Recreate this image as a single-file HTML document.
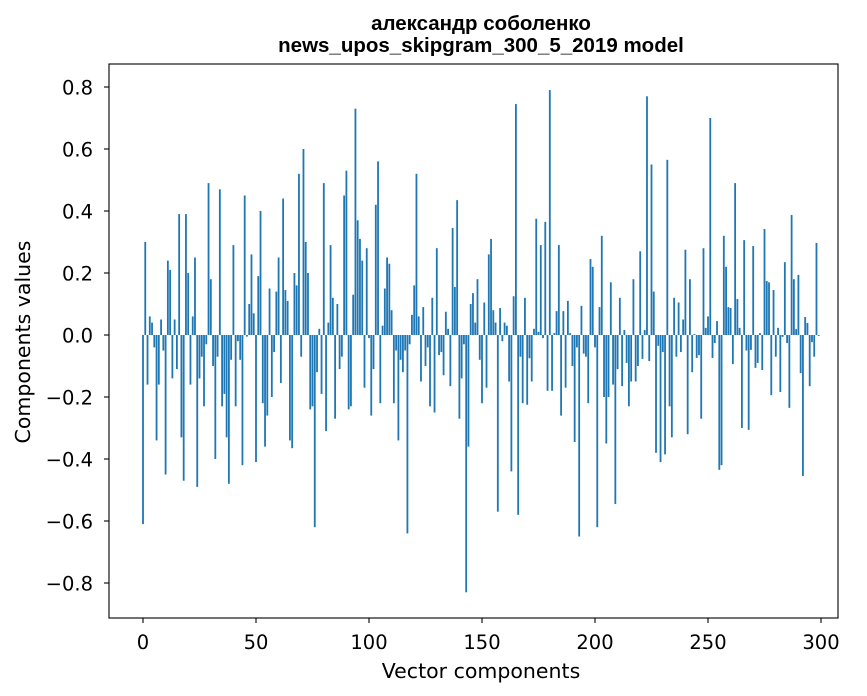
<!DOCTYPE html>
<html><head><meta charset="utf-8"><style>
html,body{margin:0;padding:0;background:#fff;}
svg{display:block;font-family:"DejaVu Sans","Liberation Sans",sans-serif;}
</style></head><body>
<svg id="chart" width="867" height="696" viewBox="0 0 867 696" xmlns="http://www.w3.org/2000/svg">
<rect width="867" height="696" fill="#fff"/>
<text x="481" y="30" text-anchor="middle" font-size="20.5" font-weight="bold" fill="#000" font-family="Liberation Sans, sans-serif">александр соболенко</text>
<text x="481" y="52" text-anchor="middle" font-size="20.5" font-weight="bold" fill="#000" font-family="Liberation Sans, sans-serif">news_upos_skipgram_300_5_2019 model</text>
<g id="bars"></g>
<g id="yticks"></g>
<g id="xticks"></g>
<rect x="109" y="64" width="729" height="554" fill="none" stroke="#000" stroke-width="1.1"/>
<text x="481" y="678" text-anchor="middle" font-size="20.5" fill="#000">Vector components</text>
<text transform="translate(30,342) rotate(-90)" text-anchor="middle" font-size="20.5" fill="#000">Components values</text>
</svg>
<script>
const values = [
-0.61,0.30,-0.16,0.06,0.04,-0.04,-0.34,-0.16,0.05,-0.05,
-0.45,0.24,0.21,-0.14,0.05,-0.11,0.39,-0.33,-0.47,0.39,
0.20,-0.16,0.06,0.25,-0.49,-0.14,-0.07,-0.23,-0.03,0.49,
0.18,-0.10,-0.40,-0.07,0.47,-0.23,-0.19,-0.33,-0.48,-0.08,
0.29,-0.23,-0.02,-0.08,-0.42,0.45,-0.005,0.10,0.26,0.07,
-0.41,0.19,0.40,-0.22,-0.36,-0.26,0.15,-0.20,-0.055,0.14,
0.25,-0.155,0.44,0.145,0.11,-0.34,-0.365,0.20,0.16,0.52,
-0.07,0.60,0.30,0.20,-0.24,-0.23,-0.62,-0.12,0.02,-0.19,
0.49,-0.31,0.04,0.29,0.12,-0.27,0.10,-0.11,-0.07,0.45,
0.53,-0.24,-0.23,0.13,0.73,0.37,0.31,0.24,-0.17,0.28,
-0.01,-0.26,-0.11,0.42,0.56,-0.22,0.03,0.15,0.25,0.23,
0.08,-0.22,-0.05,-0.34,-0.08,-0.12,-0.05,-0.64,-0.03,0.065,
0.16,0.52,0.06,-0.15,0.09,-0.10,-0.04,-0.23,0.12,-0.25,
0.28,-0.065,-0.055,-0.13,0.075,0.02,-0.165,0.345,0.155,0.435,
-0.27,-0.14,-0.03,-0.83,-0.36,0.10,0.135,0.04,0.18,-0.08,
-0.22,0.105,-0.17,0.26,0.31,0.08,0.04,-0.57,0.087,-0.02,
0.04,0.03,-0.15,-0.44,0.125,0.745,-0.58,-0.07,-0.22,0.12,
-0.225,-0.075,-0.15,0.02,0.375,0.01,0.29,-0.01,0.365,-0.18,
0.79,-0.18,0.006,0.077,0.29,-0.26,0.077,-0.17,0.11,0.006,
-0.10,-0.345,-0.04,-0.65,0.094,-0.06,-0.07,-0.22,0.245,0.22,
-0.04,-0.62,0.09,0.32,-0.20,-0.35,-0.20,0.17,-0.16,-0.545,
-0.11,0.12,-0.165,0.016,-0.09,-0.23,-0.15,0.18,-0.15,-0.10,
0.27,-0.077,0.016,0.77,-0.084,0.55,0.14,-0.38,-0.035,-0.41,
-0.055,-0.385,0.565,-0.23,-0.33,0.12,-0.07,0.105,-0.055,0.05,
0.275,-0.32,0.18,-0.12,0.003,-0.074,-0.065,-0.27,0.28,0.023,
0.06,0.70,-0.074,-0.026,0.045,-0.435,-0.42,0.32,0.22,0.09,
0.087,-0.094,0.49,0.116,0.023,-0.30,0.306,-0.05,-0.306,-0.048,
0.287,-0.106,-0.09,0.006,-0.113,0.342,0.174,0.17,-0.194,0.145,
-0.07,0.023,-0.184,-0.006,0.235,-0.026,-0.235,0.387,0.18,0.019,
0.194,-0.123,-0.455,0.058,0.039,-0.165,-0.023,-0.07,0.297,-0.003
];
const yTickValues = [-0.8,-0.6,-0.4,-0.2,0.0,0.2,0.4,0.6,0.8];
const yTickLabels = ["\u22120.8","\u22120.6","\u22120.4","\u22120.2","0.0","0.2","0.4","0.6","0.8"];
const xTickValues = [0,50,100,150,200,250,300];
const xTickLabels = ["0","50","100","150","200","250","300"];

const NS = "http://www.w3.org/2000/svg";
function xScale(v){ return 143 + (v/300)*678; }
function yScale(v){ return 335 - v*310; }
const barW = 0.8*678/300;

const gb = document.getElementById('bars');
values.forEach((v,i)=>{
  const r = document.createElementNS(NS,'rect');
  const y0 = yScale(0), y1 = yScale(v);
  r.setAttribute('x', xScale(i)-barW/2);
  r.setAttribute('y', Math.min(y0,y1));
  r.setAttribute('width', barW);
  r.setAttribute('height', Math.max(Math.abs(y1-y0),0.3));
  r.setAttribute('fill', '#1f77b4');
  
  
  gb.appendChild(r);
});

const gy = document.getElementById('yticks');
yTickValues.forEach((v,i)=>{
  const y = yScale(v);
  const l = document.createElementNS(NS,'line');
  l.setAttribute('x1',104); l.setAttribute('x2',109);
  l.setAttribute('y1',y); l.setAttribute('y2',y);
  l.setAttribute('stroke','#000'); l.setAttribute('stroke-width','1.1');
  
  
  gy.appendChild(l);
  const t = document.createElementNS(NS,'text');
  t.setAttribute('x',93); t.setAttribute('y',y+7.5);
  t.setAttribute('text-anchor','end'); t.setAttribute('font-size','19.5');
  t.textContent = yTickLabels[i];
  
  
  gy.appendChild(t);
});

const gx = document.getElementById('xticks');
xTickValues.forEach((v,i)=>{
  const x = xScale(v);
  const l = document.createElementNS(NS,'line');
  l.setAttribute('x1',x); l.setAttribute('x2',x);
  l.setAttribute('y1',618); l.setAttribute('y2',623);
  l.setAttribute('stroke','#000'); l.setAttribute('stroke-width','1.1');
  
  
  gx.appendChild(l);
  const t = document.createElementNS(NS,'text');
  t.setAttribute('x',x); t.setAttribute('y',649);
  t.setAttribute('text-anchor','middle'); t.setAttribute('font-size','19.5');
  t.textContent = xTickLabels[i];
  
  
  gx.appendChild(t);
});
</script>
</body></html>
